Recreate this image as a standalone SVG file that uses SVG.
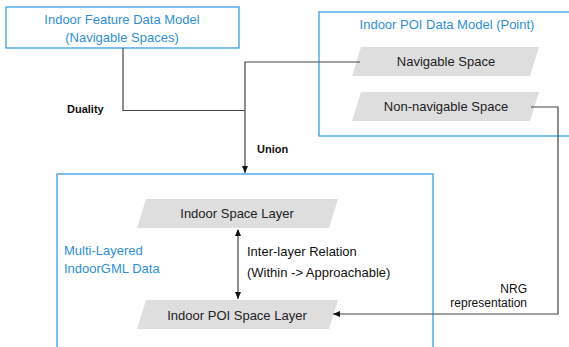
<svg xmlns="http://www.w3.org/2000/svg" width="569" height="347" viewBox="0 0 569 347">
<style>
.box{fill:#fff;stroke:#3a9ee0;stroke-width:1.3}
.para{fill:#dedede;stroke:none}
.blue{font-family:"Liberation Sans",Arial,sans-serif;font-size:13px;fill:#2f8fd6}
.dark{font-family:"Liberation Sans",Arial,sans-serif;font-size:13px;fill:#222}
.lbl{font-family:"Liberation Sans",Arial,sans-serif;font-size:13px;fill:#111}
.lbls{font-family:"Liberation Sans",Arial,sans-serif;font-size:12px;fill:#111}
.lblb{font-family:"Liberation Sans",Arial,sans-serif;font-size:11px;font-weight:bold;fill:#111}
.conn{fill:none;stroke:#444;stroke-width:1.2}
</style>
<defs>
<marker id="ah" markerWidth="8" markerHeight="8" refX="7" refY="4" orient="auto" markerUnits="userSpaceOnUse">
<path d="M0,1 L7,4 L0,7 Z" fill="#111"/>
</marker>
<marker id="ahs" markerWidth="8" markerHeight="8" refX="1" refY="4" orient="auto" markerUnits="userSpaceOnUse">
<path d="M7,1 L0,4 L7,7 Z" fill="#111"/>
</marker>
</defs>
<rect width="569" height="347" fill="#fff"/>

<g id="poi-model">
<rect class="box" x="319" y="12" width="252" height="124"/>
<text class="blue" x="447" y="29" text-anchor="middle">Indoor POI Data Model (Point)</text>
</g>

<g id="multi-layered">
<rect class="box" x="57" y="174" width="376" height="180"/>
<text class="blue" x="64" y="255">Multi-Layered</text>
<text class="blue" x="64" y="273">IndoorGML Data</text>
</g>

<g id="feature-model">
<rect class="box" x="6" y="7" width="233" height="41"/>
<text class="blue" x="122" y="24" text-anchor="middle">Indoor Feature Data Model</text>
<text class="blue" x="122" y="42" text-anchor="middle">(Navigable Spaces)</text>
</g>

<g id="navigable-space">
<polygon class="para" points="361,47 539,47 530,76 352,76"/>
<text class="dark" x="446" y="66" text-anchor="middle">Navigable Space</text>
</g>

<g id="non-navigable-space">
<polygon class="para" points="361,92 539,92 530,121 352,121"/>
<text class="dark" x="446" y="111" text-anchor="middle">Non-navigable Space</text>
</g>

<g id="indoor-space-layer">
<polygon class="para" points="146,199 338,199 329,228 137,228"/>
<text class="dark" x="237" y="218" text-anchor="middle">Indoor Space Layer</text>
</g>

<g id="indoor-poi-space-layer">
<polygon class="para" points="146,300 338,300 329,329 137,329"/>
<text class="dark" x="237" y="320" text-anchor="middle">Indoor POI Space Layer</text>
</g>

<g id="connectors">
<polyline class="conn" points="123,48 123,110.5 245,110.5"/>
<polyline class="conn" points="360,62 245,62 245,173" marker-end="url(#ah)"/>
<polyline class="conn" points="531,107 558,107 558,314 333,314" marker-end="url(#ah)"/>
<line class="conn" x1="238" y1="230" x2="238" y2="299" marker-start="url(#ahs)" marker-end="url(#ah)"/>
<text class="lblb" x="67" y="113">Duality</text>
<text class="lblb" x="257" y="153">Union</text>
<text class="lbl" x="247" y="256">Inter-layer Relation</text>
<text class="lbl" x="247" y="277">(Within -&gt; Approachable)</text>
<text class="lbls" x="527" y="293" text-anchor="end">NRG</text>
<text class="lbls" x="527" y="307" text-anchor="end">representation</text>
</g>
</svg>
